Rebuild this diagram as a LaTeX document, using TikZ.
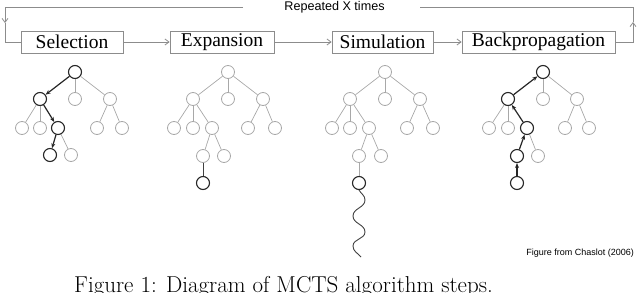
\documentclass[tikz,border=0pt]{standalone}
\usepackage{fontspec}
\newfontfamily\boxfont{Liberation Serif}
\newfontfamily\smallsans{Liberation Sans}
\usetikzlibrary{arrows.meta}
\definecolor{lgray}{gray}{0.66}
\definecolor{cgray}{gray}{0.55}
\tikzset{
  stepbox/.style={draw=cgray, line width=0.8pt, minimum height=22pt, inner sep=0pt, font=\boxfont\fontsize{19.5}{20}\selectfont},
  conn/.style={draw=cgray, line width=0.8pt},
  tip/.style={-{Straight Barb[length=4pt,width=6pt]}},
  tn/.style={circle, draw=lgray, line width=0.8pt, minimum size=13pt, inner sep=0pt},
  dn/.style={circle, draw=black!85, line width=1.1pt, minimum size=13pt, inner sep=0pt},
  te/.style={draw=lgray, line width=0.7pt},
  de/.style={draw=black!85, line width=1.2pt},
  darr/.style={de, -{Stealth[length=5pt,width=4pt]}},
}
\begin{document}
\begin{tikzpicture}[x=1pt,y=-1pt]
\useasboundingbox (0,0) rectangle (640,292);
% step boxes
\node[stepbox, minimum width=102pt] (sel) at (72,42) {Selection};
\node[stepbox, minimum width=104pt] (exp) at (222,42) {Expansion};
\node[stepbox, minimum width=101pt] (sim) at (382.5,42) {Simulation};
\node[stepbox, minimum width=153pt] (bp) at (538.5,42) {Backpropagation};
\draw[conn,tip] (sel) -- (exp);
\draw[conn,tip] (exp) -- (sim);
\draw[conn,tip] (sim) -- (bp);
% loop
\node[font=\smallsans\fontsize{12.6}{13}\selectfont, inner sep=0pt] (rep) at (334.5,7) {Repeated X times};
\coordinate (rr) at (420,7);
\coordinate (rc) at (633,7);
\coordinate (rm) at (633,22);
\coordinate (rb) at (633,42);
\coordinate (ll) at (243,7);
\coordinate (lc) at (5,7);
\coordinate (lm) at (5,23);
\coordinate (lb) at (5,42);
\draw[conn,tip] (bp.east) -- (rb) -- (rm);
\draw[conn] (rm) -- (rc) -- (rr);
\draw[conn,tip] (ll) -- (lc) -- (lm);
\draw[conn] (lm) -- (lb) -- (sel.west);

% ---------- Selection tree ----------
\node[dn] (a0) at (75,72) {};
\node[dn] (a1) at (40,99) {};
\node[tn] (a2) at (75,99) {};
\node[tn] (a3) at (110,99) {};
\node[tn] (a4) at (22,128) {};
\node[tn] (a5) at (40,128) {};
\node[dn] (a6) at (58,128) {};
\node[tn] (a7) at (97,128) {};
\node[tn] (a8) at (122,128) {};
\node[dn] (a9) at (50,155) {};
\node[tn] (a10) at (71,155) {};
\draw[te] (a0) -- (a2); \draw[te] (a0) -- (a3);
\draw[te] (a1) -- (a4); \draw[te] (a1) -- (a5);
\draw[te] (a3) -- (a7); \draw[te] (a3) -- (a8);
\draw[te] (a6) -- (a10);
\draw[darr] (a0) -- (a1);
\draw[darr] (a1) -- (a6);
\draw[darr] (a6) -- (a9);

% ---------- Expansion tree ----------
\node[tn] (b0) at (228,72) {};
\node[tn] (b1) at (193,99) {};
\node[tn] (b2) at (228,99) {};
\node[tn] (b3) at (263,99) {};
\node[tn] (b4) at (174,128) {};
\node[tn] (b5) at (193,128) {};
\node[tn] (b6) at (212,128) {};
\node[tn] (b7) at (248,128) {};
\node[tn] (b8) at (275,128) {};
\node[tn] (b9) at (203,156) {};
\node[tn] (b10) at (224,156) {};
\node[dn] (b11) at (203,183) {};
\draw[te] (b0) -- (b1); \draw[te] (b0) -- (b2); \draw[te] (b0) -- (b3);
\draw[te] (b1) -- (b4); \draw[te] (b1) -- (b5); \draw[te] (b1) -- (b6);
\draw[te] (b3) -- (b7); \draw[te] (b3) -- (b8);
\draw[te] (b6) -- (b9); \draw[te] (b6) -- (b10);
\draw[draw=black!75, line width=1pt] (b9) -- (b11);

% ---------- Simulation tree ----------
\node[tn] (c0) at (385,72) {};
\node[tn] (c1) at (350,99) {};
\node[tn] (c2) at (385,99) {};
\node[tn] (c3) at (420,99) {};
\node[tn] (c4) at (332,128) {};
\node[tn] (c5) at (350,128) {};
\node[tn] (c6) at (369,128) {};
\node[tn] (c7) at (407,128) {};
\node[tn] (c8) at (433,128) {};
\node[tn] (c9) at (359,156) {};
\node[tn] (c10) at (381,156) {};
\node[dn] (c11) at (359,183) {};
\draw[te] (c0) -- (c1); \draw[te] (c0) -- (c2); \draw[te] (c0) -- (c3);
\draw[te] (c1) -- (c4); \draw[te] (c1) -- (c5); \draw[te] (c1) -- (c6);
\draw[te] (c3) -- (c7); \draw[te] (c3) -- (c8);
\draw[te] (c6) -- (c9); \draw[te] (c6) -- (c10);
\draw[te] (c9) -- (c11);
\coordinate (w1) at (365,200);
\coordinate (w2) at (353,216);
\coordinate (w3) at (365,232);
\coordinate (w4) at (353,246);
\coordinate (wend) at (361,257);
\draw[draw=black!75, line width=0.9pt] (c11.south) to[out=-60,in=90] (w1) to[out=-90,in=90] (w2) to[out=-90,in=90] (w3) to[out=-90,in=90] (w4) to[out=-90,in=130] (wend);

% ---------- Backpropagation tree ----------
\node[dn] (d0) at (543,72) {};
\node[dn] (d1) at (508,99) {};
\node[tn] (d2) at (543,99) {};
\node[tn] (d3) at (577,99) {};
\node[tn] (d4) at (489,128) {};
\node[tn] (d5) at (508,128) {};
\node[dn] (d6) at (527,128) {};
\node[tn] (d7) at (565,128) {};
\node[tn] (d8) at (589,128) {};
\node[dn] (d9) at (517,156) {};
\node[tn] (d10) at (538,156) {};
\node[dn] (d11) at (517,183) {};
\draw[te] (d0) -- (d2); \draw[te] (d0) -- (d3);
\draw[te] (d1) -- (d4); \draw[te] (d1) -- (d5);
\draw[te] (d3) -- (d7); \draw[te] (d3) -- (d8);
\draw[te] (d6) -- (d10);
\draw[darr] (d11) -- (d9);
\draw[darr] (d9) -- (d6);
\draw[darr] (d6) -- (d1);
\draw[darr] (d1) -- (d0);

% credit and caption
\node[font=\smallsans\fontsize{9}{10}\selectfont, inner sep=0pt, anchor=east] (cred) at (634,253) {Figure from Chaslot (2006)};
\node[font=\fontsize{23}{24}\selectfont, inner sep=0pt, anchor=base west] (cap) at (74,292.5) {Figure 1: Diagram of MCTS algorithm steps.};
\end{tikzpicture}
\end{document}
